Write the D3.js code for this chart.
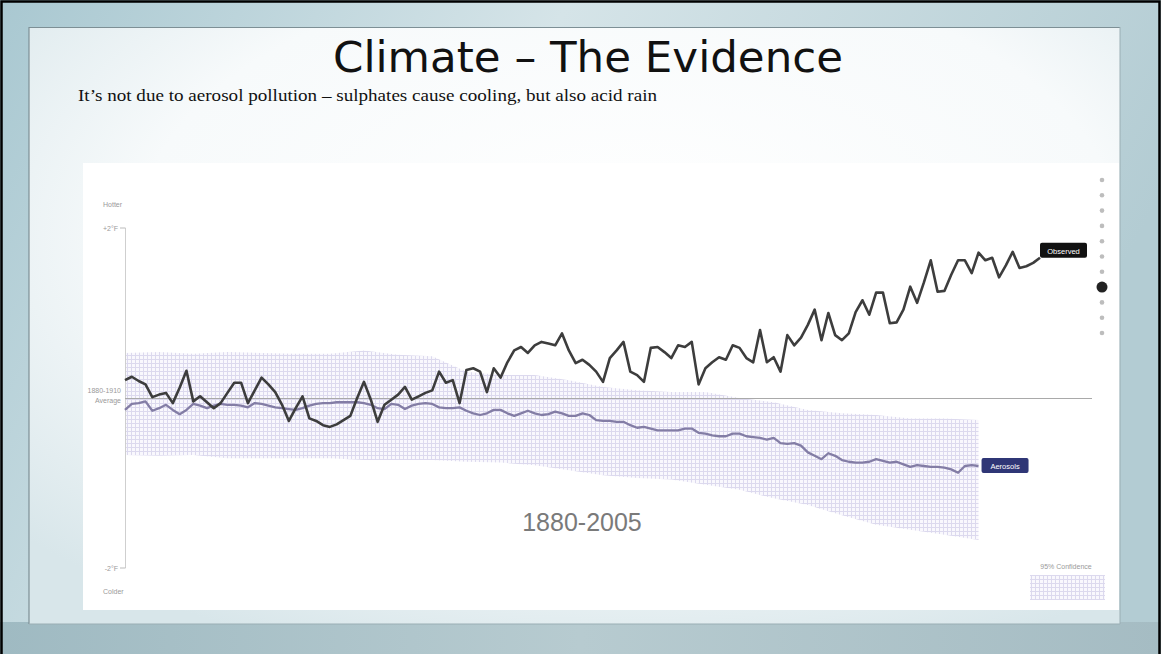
<!DOCTYPE html>
<html>
<head>
<meta charset="utf-8">
<script src="https://cdn.jsdelivr.net/npm/d3@7"></script>
<style>
  html, body { margin: 0; padding: 0; background: #fff; }
  svg { display: block; }
</style>
</head>
<body>
<svg id="slide" width="1161" height="654"></svg>
<script>
// Annual temperature change vs. the 1880-1910 average, in °F
const observedYears = d3.range(1880, 2015);
const observed = [
  0.21, 0.25, 0.20, 0.16, 0.01, 0.04, 0.06, -0.06, 0.12, 0.32,
  -0.04, 0.02, -0.05, -0.12, -0.06, 0.06, 0.18, 0.18, -0.06, 0.09,
  0.24, 0.16, 0.07, -0.08, -0.27, -0.12, 0.02, -0.24, -0.27, -0.32,
  -0.34, -0.31, -0.26, -0.21, 0.00, 0.19, -0.02, -0.28, -0.08, -0.02,
  0.04, 0.13, -0.02, 0.02, 0.06, 0.09, 0.31, 0.18, 0.21, -0.06,
  0.33, 0.35, 0.31, 0.07, 0.35, 0.24, 0.42, 0.56, 0.60, 0.53,
  0.62, 0.66, 0.64, 0.62, 0.76, 0.56, 0.41, 0.45, 0.39, 0.31,
  0.19, 0.47, 0.56, 0.66, 0.31, 0.27, 0.19, 0.59, 0.60, 0.54,
  0.47, 0.62, 0.60, 0.66, 0.16, 0.35, 0.42, 0.48, 0.45, 0.62,
  0.59, 0.47, 0.42, 0.80, 0.42, 0.48, 0.31, 0.74, 0.62, 0.71,
  0.86, 1.04, 0.68, 1.00, 0.74, 0.68, 0.76, 1.01, 1.15, 0.98,
  1.24, 1.24, 0.88, 0.89, 1.04, 1.31, 1.12, 1.36, 1.62, 1.25,
  1.26, 1.45, 1.62, 1.62, 1.47, 1.71, 1.62, 1.65, 1.42, 1.56,
  1.72, 1.53, 1.55, 1.59, 1.65
];

// Modelled influence of aerosols, 1880-2005
const aerosolYears = d3.range(1880, 2006);
const aerosols = [
  -0.14, -0.07, -0.06, -0.04, -0.15, -0.12, -0.08, -0.14, -0.19, -0.14,
  -0.07, -0.09, -0.12, -0.09, -0.07, -0.08, -0.08, -0.09, -0.11, -0.06,
  -0.07, -0.09, -0.11, -0.12, -0.13, -0.14, -0.12, -0.09, -0.07, -0.06,
  -0.06, -0.05, -0.05, -0.05, -0.05, -0.06, -0.08, -0.12, -0.13, -0.07,
  -0.08, -0.13, -0.09, -0.07, -0.06, -0.07, -0.11, -0.12, -0.12, -0.11,
  -0.15, -0.18, -0.20, -0.18, -0.14, -0.14, -0.18, -0.21, -0.18, -0.15,
  -0.18, -0.20, -0.19, -0.16, -0.18, -0.21, -0.21, -0.18, -0.20, -0.26,
  -0.27, -0.27, -0.28, -0.28, -0.32, -0.35, -0.34, -0.36, -0.38, -0.38,
  -0.38, -0.38, -0.36, -0.36, -0.41, -0.42, -0.44, -0.45, -0.45, -0.42,
  -0.42, -0.45, -0.46, -0.47, -0.49, -0.47, -0.53, -0.54, -0.53, -0.56,
  -0.64, -0.68, -0.72, -0.65, -0.68, -0.73, -0.75, -0.76, -0.76, -0.75,
  -0.72, -0.74, -0.76, -0.75, -0.78, -0.81, -0.79, -0.80, -0.81, -0.81,
  -0.82, -0.84, -0.88, -0.80, -0.79, -0.80
];

// 95% confidence range of the aerosol estimate, every five years
const bandYears = d3.range(1880, 2006, 5);
const bandHigh = [
  0.53, 0.54, 0.52, 0.54, 0.53, 0.52, 0.52, 0.56, 0.51, 0.49,
  0.31, 0.27, 0.27, 0.21, 0.13, 0.09, 0.07, 0.07, 0.00, -0.05,
  -0.14, -0.18, -0.20, -0.24, -0.24, -0.26
];
const bandLow = [
  -0.67, -0.68, -0.67, -0.71, -0.71, -0.71, -0.71, -0.73, -0.73, -0.73,
  -0.75, -0.76, -0.79, -0.85, -0.91, -0.94, -0.96, -1.02, -1.08, -1.18,
  -1.26, -1.38, -1.49, -1.55, -1.61, -1.67
];

const yTicks = [2, -2];
const yTickLabels = ["+2°F", "-2°F"];
const navDotCount = 11;
const navActive = 7;

const svg = d3.select("#slide");
const defs = svg.append("defs");

// ---------- slide background ----------
const bg = defs.append("linearGradient").attr("id", "bgGrad")
  .attr("x1", 0).attr("y1", 0).attr("x2", 1).attr("y2", 0.3);
bg.append("stop").attr("offset", "0%").attr("stop-color", "#a9c8d1");
bg.append("stop").attr("offset", "45%").attr("stop-color", "#d5e4e8");
bg.append("stop").attr("offset", "100%").attr("stop-color", "#b3ccd3");

const panel = defs.append("radialGradient").attr("id", "panelGrad")
  .attr("cx", "55%").attr("cy", "35%").attr("r", "75%");
panel.append("stop").attr("offset", "0%").attr("stop-color", "#ffffff");
panel.append("stop").attr("offset", "60%").attr("stop-color", "#f7fafb");
panel.append("stop").attr("offset", "100%").attr("stop-color", "#d8e6ea");

const bottomShade = defs.append("linearGradient").attr("id", "bottomGrad")
  .attr("x1", 0).attr("y1", 0).attr("x2", 1).attr("y2", 0);
bottomShade.append("stop").attr("offset", "0%").attr("stop-color", "#9fbac2");
bottomShade.append("stop").attr("offset", "50%").attr("stop-color", "#b7cbd0");
bottomShade.append("stop").attr("offset", "100%").attr("stop-color", "#a5bcc3");

svg.append("rect").attr("width", 1161).attr("height", 654).attr("fill", "url(#bgGrad)");
svg.append("rect").attr("x", 0).attr("y", 622).attr("width", 1161).attr("height", 32)
  .attr("fill", "url(#bottomGrad)");
svg.append("rect").attr("x", 29).attr("y", 27).attr("width", 1091).attr("height", 597)
  .attr("fill", "url(#panelGrad)");
svg.append("path").attr("d", "M29 624V27.5H1120")
  .attr("fill", "none").attr("stroke", "#7d8f95").attr("stroke-width", 1.2);
svg.append("path").attr("d", "M1120 27V624H29")
  .attr("fill", "none").attr("stroke", "#9aaeb4").attr("stroke-width", 1);

// frame
svg.append("path").attr("d", "M1.5 654V1.5H1159.5V654")
  .attr("fill", "none").attr("stroke", "#000").attr("stroke-width", 2.5);

// ---------- headings ----------
svg.append("text")
  .attr("x", 588).attr("y", 72)
  .attr("text-anchor", "middle")
  .attr("font-family", "'DejaVu Sans', Verdana, sans-serif")
  .attr("font-size", 42)
  .attr("textLength", 510).attr("lengthAdjust", "spacingAndGlyphs")
  .attr("fill", "#111")
  .text("Climate – The Evidence");

svg.append("text")
  .attr("x", 78).attr("y", 101)
  .attr("font-family", "'Liberation Serif', 'Times New Roman', serif")
  .attr("font-size", 17)
  .attr("textLength", 579).attr("lengthAdjust", "spacingAndGlyphs")
  .attr("fill", "#111")
  .text("It’s not due to aerosol pollution – sulphates cause cooling, but also acid rain");

// ---------- chart ----------
svg.append("rect").attr("x", 83).attr("y", 163).attr("width", 1036).attr("height", 447)
  .attr("fill", "#fff");

const x = d3.scaleLinear().domain([1880, 2014]).range([125, 1040]);
const y = d3.scaleLinear().domain([-2, 2]).range([568, 228]);

// grid hatch for the confidence range
const pat = defs.append("pattern").attr("id", "hatch")
  .attr("patternUnits", "userSpaceOnUse").attr("width", 4).attr("height", 4);
pat.append("rect").attr("width", 4).attr("height", 4).attr("fill", "#f9f8fd");
pat.append("path").attr("d", "M3.5 0V4M0 3.5H4")
  .attr("stroke", "#dcd9ee").attr("stroke-width", 1);

const band = d3.area()
  .x((d, i) => x(bandYears[i]))
  .y0((d, i) => y(bandLow[i]))
  .y1((d, i) => y(bandHigh[i]));
svg.append("path").datum(bandYears).attr("d", band).attr("fill", "url(#hatch)");

// y axis
const g = svg.append("g").attr("font-family", "'Liberation Sans', Arial, sans-serif")
  .attr("font-size", 7).attr("fill", "#9a9a9a");
g.append("line").attr("x1", 125.5).attr("x2", 125.5)
  .attr("y1", y(2)).attr("y2", y(-2)).attr("stroke", "#cfcfcf");
yTicks.forEach((t, i) => {
  g.append("line").attr("x1", 120).attr("x2", 125.5)
    .attr("y1", y(t)).attr("y2", y(t)).attr("stroke", "#bbb");
  g.append("text").attr("x", 118).attr("y", y(t) + 2.5)
    .attr("text-anchor", "end").text(yTickLabels[i]);
});
g.append("text").attr("x", 103).attr("y", y(2) - 21).text("Hotter");
g.append("text").attr("x", 103).attr("y", y(-2) + 26).text("Colder");
g.append("text").attr("x", 121).attr("y", y(0) - 5).attr("text-anchor", "end").text("1880-1910");
g.append("text").attr("x", 121).attr("y", y(0) + 5).attr("text-anchor", "end").text("Average");

// zero line
svg.append("line").attr("x1", 125).attr("x2", 1092)
  .attr("y1", y(0) + 0.5).attr("y2", y(0) + 0.5)
  .attr("stroke", "#a9a9a9").attr("stroke-width", 1);

// series
const aeroLine = d3.line().x((d, i) => x(aerosolYears[i])).y(d => y(d));
svg.append("path").datum(aerosols).attr("d", aeroLine)
  .attr("fill", "none").attr("stroke", "#837da5").attr("stroke-width", 2.3)
  .attr("stroke-linejoin", "round");

const obsLine = d3.line().x((d, i) => x(observedYears[i])).y(d => y(d));
svg.append("path").datum(observed).attr("d", obsLine)
  .attr("fill", "none").attr("stroke", "#3d3d3d").attr("stroke-width", 2.6)
  .attr("stroke-linejoin", "round");

// end labels
function endLabel(text, px, py, fill) {
  const gl = svg.append("g").attr("transform", `translate(${px},${py})`);
  gl.append("rect").attr("x", 0).attr("y", -8).attr("width", 47).attr("height", 15)
    .attr("rx", 2).attr("fill", fill);
  gl.append("text").attr("x", 23.5).attr("y", 2.8).attr("text-anchor", "middle")
    .attr("font-family", "'Liberation Sans', Arial, sans-serif")
    .attr("font-size", 7.5).attr("fill", "#fff").text(text);
}
endLabel("Observed", x(2014), y(observed[observed.length - 1]) - 7, "#111");
endLabel("Aerosols", x(2005) + 3, y(aerosols[aerosols.length - 1]), "#2f3676");

// period label
svg.append("text").attr("x", 582).attr("y", 531).attr("text-anchor", "middle")
  .attr("font-family", "'Liberation Sans', Arial, sans-serif")
  .attr("font-size", 25).attr("fill", "#7a7a7a").text("1880-2005");

// confidence key
svg.append("text").attr("x", 1066).attr("y", 569).attr("text-anchor", "middle")
  .attr("font-family", "'Liberation Sans', Arial, sans-serif")
  .attr("font-size", 7).attr("fill", "#9a9a9a").text("95% Confidence");
svg.append("rect").attr("x", 1030).attr("y", 575).attr("width", 75).attr("height", 25)
  .attr("fill", "url(#hatch)");

// page navigation dots
const dots = d3.range(navDotCount);
svg.selectAll("circle.nav").data(dots).join("circle")
  .attr("class", "nav")
  .attr("cx", 1102)
  .attr("cy", d => 180 + d * 15.3)
  .attr("r", d => d === navActive ? 5.5 : 2.3)
  .attr("fill", d => d === navActive ? "#222" : "#bdbdbd");
</script>
</body>
</html>
